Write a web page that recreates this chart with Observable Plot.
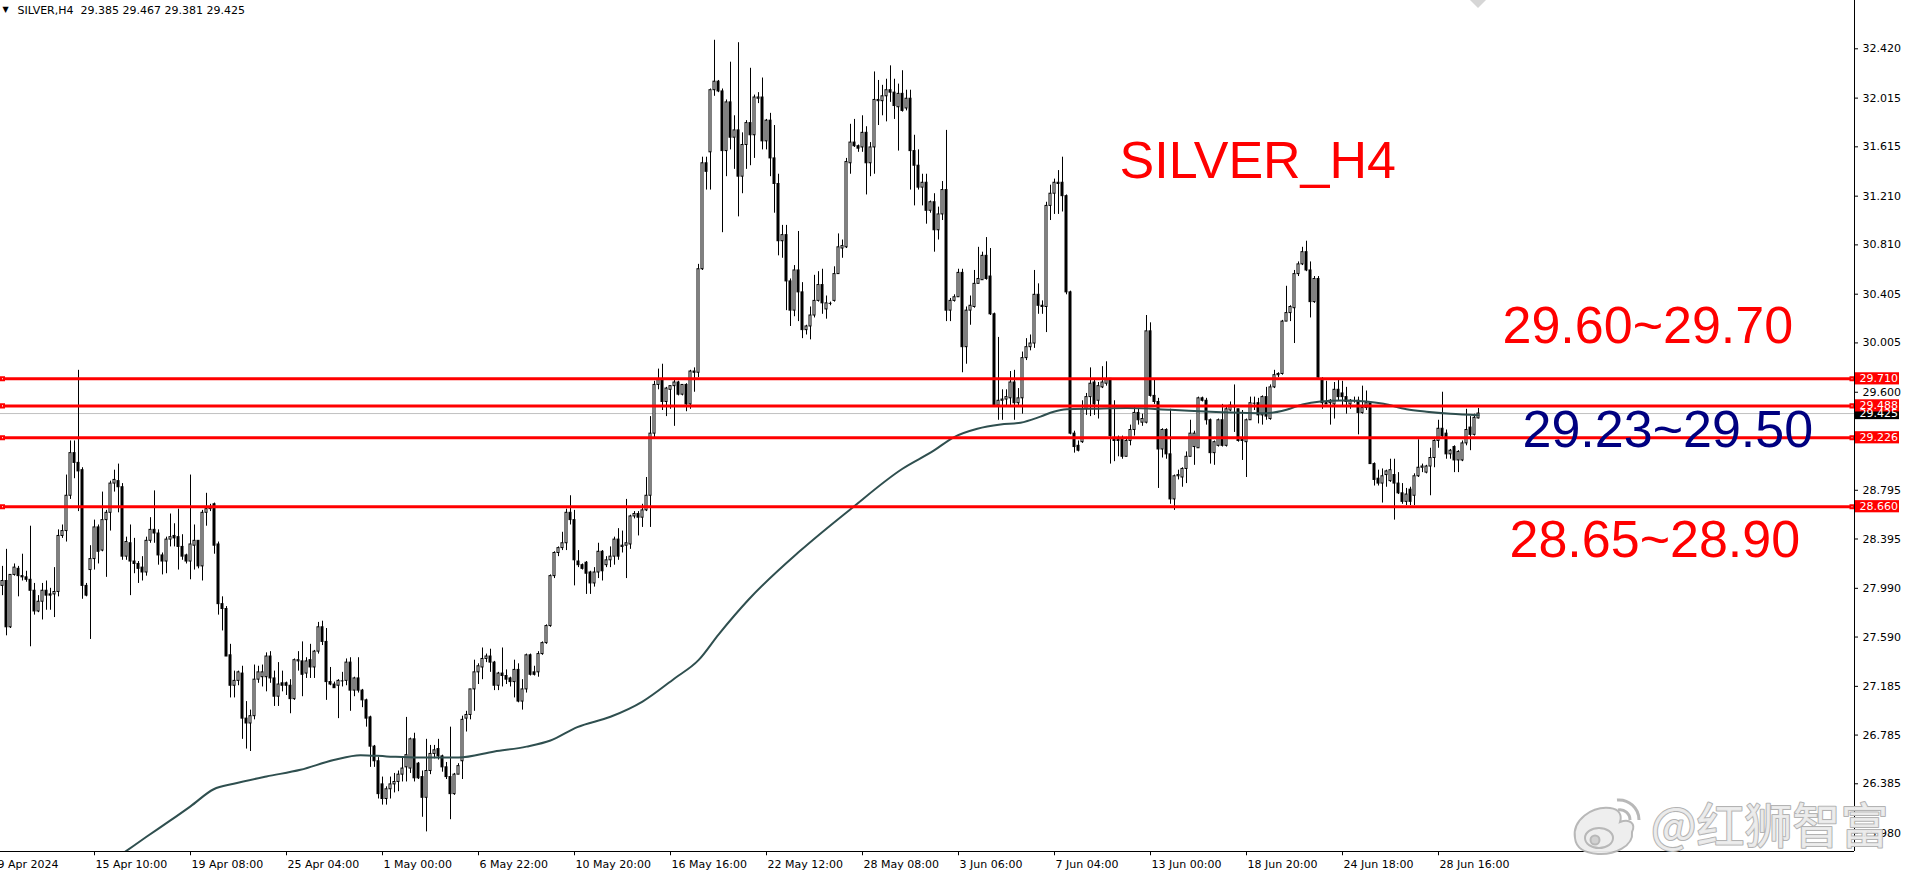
<!DOCTYPE html>
<html><head><meta charset="utf-8">
<script src="https://cdn.jsdelivr.net/npm/d3@7"></script>
<script src="https://cdn.jsdelivr.net/npm/@observablehq/plot@0.6"></script>
<style>
html,body{margin:0;padding:0;background:#fff;overflow:hidden}
#chart{position:relative;width:1907px;height:872px;background:#fff}
#logo{position:absolute;left:0;top:0;pointer-events:none}
</style></head><body><div id="chart"></div>
<script>
// ---- data (H4 candles, index 0 = leftmost bar) ----
const symbolName = "SILVER";
const timeframe = "H4";
const openPrices = [
28.01,28.05,27.67,28.10,28.15,28.09,28.08,28.06,27.97,27.80,
27.88,27.97,27.94,27.94,27.96,28.42,28.46,28.75,29.10,29.02,
28.96,28.01,28.14,28.23,28.49,28.30,28.55,28.61,28.85,28.87,
28.82,28.25,28.36,28.21,28.19,28.16,28.12,28.38,28.47,28.44,
28.26,28.21,28.39,28.42,28.41,28.33,28.26,28.21,28.34,28.38,
28.17,28.61,28.64,28.68,28.35,27.86,27.82,27.44,27.19,27.23,
27.29,26.92,26.88,26.94,27.24,27.26,27.26,27.43,27.25,27.10,
27.21,27.21,27.19,27.08,27.39,27.39,27.29,27.40,27.34,27.47,
27.67,27.55,27.22,27.20,27.19,27.23,27.23,27.38,27.15,27.25,
27.15,27.07,26.93,26.69,26.57,26.38,26.26,26.34,26.38,26.40,
26.46,26.52,26.51,26.75,26.55,26.44,26.27,26.49,26.63,26.67,
26.61,26.52,26.44,26.30,26.46,26.57,26.92,26.95,27.16,27.30,
27.34,27.41,27.43,27.38,27.19,27.29,27.27,27.25,27.22,27.32,
27.06,27.16,27.44,27.30,27.30,27.45,27.54,27.68,28.09,28.28,
28.32,28.36,28.61,28.55,28.21,28.18,28.20,28.12,28.03,28.12,
28.29,28.18,28.22,28.25,28.39,28.33,28.34,28.35,28.58,28.60,
28.57,28.63,28.75,29.26,29.66,29.70,29.52,29.62,29.65,29.68,
29.58,29.66,29.50,29.77,29.76,30.61,31.48,31.57,32.08,32.15,
32.07,31.58,31.98,31.69,31.75,31.37,31.63,31.81,31.71,32.01,
32.02,31.66,31.83,31.52,31.31,30.84,30.89,30.51,30.27,30.60,
30.42,30.11,30.14,30.23,30.35,30.48,30.28,30.33,30.35,30.57,
30.78,30.79,31.48,31.65,31.62,31.61,31.73,31.48,31.61,31.99,
31.99,32.03,32.08,32.06,31.94,32.05,31.93,32.01,31.58,31.46,
31.28,31.32,31.09,31.16,30.93,31.06,31.26,30.27,30.35,30.38,
30.58,29.97,30.27,30.30,30.49,30.52,30.72,30.55,30.24,29.49,
29.53,29.54,29.55,29.68,29.51,29.55,29.88,29.97,30.00,30.40,
30.31,30.30,31.13,31.23,31.32,31.32,31.21,30.42,29.26,29.16,
29.19,29.46,29.56,29.68,29.53,29.64,29.67,29.71,29.22,29.21,
29.21,29.07,29.20,29.29,29.43,29.35,29.35,30.10,29.57,29.52,
29.13,29.29,29.09,28.72,28.91,28.90,28.97,29.07,29.15,29.14,
29.55,29.53,29.37,29.10,29.16,29.37,29.16,29.45,29.48,29.46,
29.21,29.19,29.37,29.51,29.51,29.41,29.56,29.38,29.64,29.74,
29.75,30.18,30.25,30.29,30.57,30.65,30.75,30.60,30.34,30.53,
29.70,29.51,29.51,29.50,29.62,29.59,29.56,29.50,29.53,29.53,
29.43,29.47,29.51,29.01,28.89,28.85,28.92,28.87,28.92,28.85,
28.77,28.70,28.80,28.75,28.91,28.98,28.94,28.99,29.06,29.20,
29.30,29.26,29.09,29.15,29.04,29.04,29.18,29.31,29.25,29.385];
const highPrices = [
28.17,28.31,28.10,28.19,28.17,28.27,28.13,28.50,28.03,27.93,
28.03,28.05,27.99,28.16,28.47,28.51,28.92,29.20,29.20,29.78,
28.98,28.03,28.34,28.55,28.51,28.78,28.63,28.87,28.96,29.01,
28.85,28.41,28.51,28.40,28.21,28.25,28.41,28.57,28.79,28.47,
28.28,28.41,28.60,28.52,28.64,28.43,28.27,28.92,28.51,28.38,
28.63,28.77,28.68,28.69,28.37,27.92,27.84,27.53,27.31,27.31,
27.35,27.06,26.99,27.36,27.35,27.36,27.46,27.47,27.31,27.38,
27.31,27.22,27.24,27.41,27.47,27.55,27.42,27.53,27.48,27.71,
27.72,27.66,27.34,27.22,27.24,27.30,27.41,27.42,27.26,27.42,
27.16,27.08,26.94,26.70,26.60,26.44,26.36,26.44,26.47,26.49,
26.60,26.93,26.76,26.80,26.56,26.49,26.75,26.70,26.70,26.75,
26.62,26.56,26.85,26.47,26.55,26.94,26.98,27.16,27.40,27.37,
27.50,27.45,27.49,27.39,27.30,27.50,27.32,27.26,27.40,27.37,
27.24,27.45,27.45,27.35,27.47,27.55,27.69,28.10,28.29,28.33,
28.45,28.64,28.75,28.63,28.30,28.19,28.21,28.13,28.16,28.36,
28.30,28.25,28.33,28.41,28.48,28.46,28.72,28.59,28.62,28.62,
28.68,28.90,29.40,29.69,29.79,29.83,29.64,29.65,29.70,29.69,
29.66,29.67,29.78,29.80,30.65,31.53,31.53,32.09,32.49,32.16,
32.09,32.00,32.31,31.87,32.47,31.73,31.83,32.26,32.04,32.06,
32.18,31.84,31.89,31.79,31.39,30.97,30.97,30.53,30.64,30.92,
30.50,30.15,30.30,30.56,30.59,30.61,30.39,30.34,30.63,30.90,
30.85,31.52,31.80,31.84,31.63,31.87,31.78,31.65,32.23,32.16,
32.12,32.17,32.28,32.17,32.13,32.24,32.08,32.08,31.71,31.59,
31.39,31.39,31.17,31.23,31.12,31.33,31.75,30.37,30.40,30.61,
30.61,30.30,30.39,30.60,30.79,30.75,30.87,30.78,30.25,30.05,
29.62,29.62,29.77,29.78,29.63,29.93,30.04,30.07,30.60,30.49,
30.35,31.16,31.30,31.35,31.42,31.53,31.22,30.43,29.28,29.20,
29.53,29.59,29.80,29.70,29.68,29.81,29.85,29.71,29.53,29.24,
29.24,29.23,29.33,29.48,29.46,29.42,30.23,30.17,29.70,29.55,
29.30,29.30,29.46,28.92,28.96,28.98,29.11,29.37,29.28,29.56,
29.56,29.55,29.38,29.20,29.38,29.50,29.48,29.52,29.66,29.46,
29.45,29.38,29.56,29.56,29.55,29.57,29.64,29.66,29.78,29.76,
30.19,30.47,30.31,30.60,30.67,30.79,30.84,30.67,30.55,30.55,
29.72,29.69,29.54,29.68,29.70,29.69,29.64,29.54,29.56,29.56,
29.65,29.61,29.52,29.02,28.96,28.97,28.96,29.05,29.05,28.94,
28.85,28.81,28.82,28.93,29.21,29.01,29.00,29.14,29.21,29.37,
29.60,29.29,29.13,29.16,29.12,29.20,29.46,29.40,29.42,29.467];
const lowPrices = [
27.93,27.60,27.66,28.09,27.92,28.05,28.04,27.51,27.77,27.79,
27.73,27.81,27.81,27.75,27.92,28.40,28.37,28.72,28.89,28.62,
27.90,27.92,27.57,28.14,28.19,28.29,28.08,28.46,28.78,28.61,
28.22,28.22,27.93,28.11,28.03,28.05,28.09,28.36,28.36,28.18,
28.10,28.11,28.33,28.33,28.14,28.22,28.19,28.06,28.14,28.15,
28.05,28.50,28.62,28.27,27.77,27.64,27.43,27.09,27.09,27.19,
26.75,26.67,26.65,26.91,27.21,27.18,27.14,27.21,27.02,27.02,
27.14,27.11,26.96,27.07,27.31,27.10,27.25,27.25,27.25,27.45,
27.52,27.07,27.19,27.17,26.92,27.18,27.19,26.98,27.10,27.13,
27.01,26.85,26.52,26.52,26.26,26.21,26.21,26.26,26.31,26.32,
26.40,26.40,26.47,26.40,26.42,26.11,25.99,26.46,26.59,26.58,
26.48,26.42,26.09,26.29,26.46,26.42,26.81,26.91,26.98,27.20,
27.24,27.38,27.30,27.15,27.15,27.18,27.20,27.18,27.09,27.05,
26.99,27.13,27.27,27.27,27.26,27.44,27.53,27.67,28.07,28.25,
28.30,28.30,28.51,28.01,28.16,28.14,27.94,27.94,28.00,28.07,
28.05,28.16,28.16,28.18,28.22,28.28,28.07,28.31,28.56,28.42,
28.49,28.62,28.49,29.22,29.62,29.45,29.40,29.46,29.32,29.57,
29.57,29.44,29.46,29.60,29.72,30.60,31.26,31.26,32.03,32.06,
30.91,31.37,31.59,31.43,31.04,31.23,31.43,31.46,31.52,31.97,
31.59,31.59,31.37,31.07,30.72,30.70,30.27,30.14,30.22,30.18,
30.04,30.07,30.03,30.21,30.34,30.24,30.20,30.31,30.34,30.57,
30.70,30.78,31.39,31.61,31.57,31.57,31.22,31.37,31.39,31.79,
31.87,31.82,31.98,31.84,31.58,31.90,31.91,31.26,31.13,31.26,
31.13,30.98,31.07,30.75,30.85,31.01,30.18,30.18,30.34,30.38,
29.76,29.83,30.15,30.29,30.49,30.52,30.52,30.23,29.48,29.37,
29.37,29.48,29.48,29.37,29.48,29.42,29.86,29.94,29.96,30.24,
30.24,30.09,31.01,31.06,31.06,31.08,30.40,29.25,29.10,29.11,
29.18,29.41,29.40,29.41,29.38,29.63,29.65,29.01,29.03,29.07,
29.05,29.07,29.16,29.24,29.33,29.32,29.34,29.56,29.50,28.81,
29.06,29.05,28.68,28.63,28.88,28.82,28.85,29.07,29.00,29.14,
29.52,29.33,29.01,29.00,29.15,29.15,29.15,29.44,29.27,29.19,
29.04,28.90,29.37,29.45,29.34,29.33,29.37,29.37,29.63,29.72,
29.74,30.18,30.18,30.00,30.55,30.64,30.59,30.21,30.33,29.71,
29.46,29.50,29.33,29.38,29.53,29.48,29.42,29.46,29.51,29.25,
29.42,29.45,29.01,28.83,28.83,28.69,28.82,28.86,28.55,28.76,
28.68,28.67,28.67,28.67,28.90,28.94,28.93,28.75,28.98,29.14,
29.22,29.05,29.05,28.94,28.94,29.03,29.16,29.12,29.24,29.381];
const closePrices = [
28.05,27.67,28.10,28.16,28.09,28.08,28.06,27.97,27.80,27.88,
27.97,27.93,27.93,27.96,28.42,28.46,28.75,29.10,29.02,28.95,
28.01,27.93,28.23,28.49,28.29,28.55,28.61,28.85,28.88,28.82,
28.25,28.37,28.21,28.19,28.15,28.12,28.38,28.47,28.44,28.26,
28.21,28.39,28.41,28.40,28.33,28.25,28.21,28.35,28.38,28.17,
28.61,28.64,28.65,28.34,27.86,27.82,27.43,27.19,27.23,27.30,
26.92,26.88,26.94,27.24,27.30,27.30,27.43,27.25,27.10,27.20,
27.19,27.19,27.08,27.40,27.40,27.28,27.39,27.34,27.47,27.67,
27.55,27.22,27.20,27.17,27.23,27.23,27.38,27.15,27.25,27.15,
27.07,26.92,26.69,26.57,26.30,26.26,26.34,26.38,26.40,26.46,
26.51,26.62,26.75,26.43,26.43,26.27,26.49,26.63,26.66,26.61,
26.52,26.44,26.30,26.46,26.53,26.91,26.95,27.16,27.30,27.35,
27.41,27.43,27.38,27.19,27.29,27.27,27.24,27.22,27.32,27.06,
27.16,27.44,27.28,27.28,27.45,27.54,27.68,28.09,28.28,28.32,
28.36,28.61,28.55,28.22,28.18,28.15,28.11,28.03,28.12,28.29,
28.13,28.22,28.25,28.39,28.25,28.34,28.36,28.58,28.60,28.57,
28.63,28.75,29.26,29.66,29.70,29.52,29.63,29.65,29.68,29.58,
29.66,29.50,29.77,29.76,30.61,31.48,31.41,32.08,32.15,32.07,
31.58,31.98,31.69,31.75,31.37,31.63,31.81,31.71,32.02,32.02,
31.66,31.83,31.52,31.31,30.84,30.89,30.51,30.27,30.60,30.42,
30.11,30.14,30.23,30.35,30.48,30.33,30.33,30.33,30.57,30.79,
30.80,31.49,31.65,31.62,31.60,31.73,31.48,31.61,32.00,32.00,
32.03,32.08,32.06,31.95,32.05,31.91,32.01,31.58,31.46,31.28,
31.32,31.09,31.16,30.93,31.06,31.26,30.27,30.35,30.38,30.58,
29.97,30.27,30.31,30.49,30.53,30.72,30.53,30.24,29.49,29.53,
29.54,29.56,29.68,29.51,29.55,29.88,29.97,30.00,30.40,30.31,
30.30,31.13,31.23,31.32,31.31,31.21,30.42,29.26,29.15,29.12,
29.46,29.56,29.67,29.50,29.65,29.68,29.70,29.24,29.20,29.20,
29.07,29.20,29.29,29.43,29.37,29.38,30.10,29.57,29.52,29.13,
29.29,29.09,28.72,28.91,28.92,28.97,29.07,29.26,29.26,29.55,
29.53,29.37,29.10,29.19,29.37,29.16,29.46,29.49,29.48,29.20,
29.20,29.37,29.51,29.51,29.41,29.56,29.40,29.64,29.74,29.75,
30.18,30.25,30.30,30.57,30.65,30.75,30.60,30.34,30.53,29.72,
29.51,29.50,29.53,29.62,29.56,29.56,29.52,29.53,29.53,29.43,
29.47,29.51,29.01,28.88,28.85,28.91,28.95,28.96,28.85,28.77,
28.70,28.76,28.70,28.91,28.98,28.99,28.99,29.06,29.20,29.30,
29.24,29.09,29.12,29.04,29.11,29.18,29.29,29.25,29.39,29.425];

// moving-average line at sample bars
const maBars = [26,30.8,36,41.8,47,52.8,57.8,66,74.5,82.8,89.5,96,104,114,123,131,137,143.7,152,160,168,174,179,186.6,199.5,212,224.9,232.8,237.8,243.7,249.5,254.5,259.5,262.8,266,272.8,281,292,302,311.2,316,321,325,329.5,335,341,345.3,351,356,362,369];
const maValues = [25.72,25.83,25.95,26.08,26.20,26.34,26.385,26.445,26.50,26.58,26.62,26.61,26.60,26.60,26.65,26.69,26.74,26.85,26.935,27.06,27.25,27.40,27.61,27.90,28.30,28.64,28.97,29.12,29.23,29.30,29.335,29.35,29.40,29.44,29.46,29.465,29.47,29.456,29.44,29.43,29.428,29.456,29.50,29.524,29.532,29.524,29.505,29.46,29.44,29.423,29.412];

const levelPrices = [29.710, 29.488, 29.226, 28.660];
const bidPrice = 29.425;
const yTickValues = [32.420,32.015,31.615,31.210,30.810,30.405,30.005,29.600,28.795,28.395,27.990,27.590,27.185,26.785,26.385,25.980];
const xTickBars = [-1.5,23,47,71,95,119,143,167,191,215,239,263,287,311,335,359];
const xTickLabels = ["9 Apr 2024","15 Apr 10:00","19 Apr 08:00","25 Apr 04:00","1 May 00:00","6 May 22:00","10 May 20:00","16 May 16:00","22 May 12:00","28 May 08:00","3 Jun 06:00","7 Jun 04:00","13 Jun 00:00","18 Jun 20:00","24 Jun 18:00","28 Jun 16:00"];
const noteTexts = ["SILVER_H4","29.60~29.70","29.23~29.50","28.65~28.90"];
const noteBars = [279.25,375,380,376.75];
const notePrices = [31.361,30.008,29.149,28.251];
const noteColors = ["#ff0000","#ff0000","#000080","#ff0000"];
const watermarkText = "@红狮智富";

// ---- build tables ----
const candles = openPrices.map((o,i)=>({i, open:o, high:highPrices[i], low:lowPrices[i], close:closePrices[i]}));
const dojis = candles.filter(d=>d.open===d.close);
const ma = maBars.map((b,k)=>({bar:b, value:maValues[k]}));
const xTicks = xTickBars.map((b,k)=>({bar:b, label:xTickLabels[k]}));
const notes = noteTexts.map((t,k)=>({text:t, bar:noteBars[k], price:notePrices[k], color:noteColors[k]}));
const priceBoxes = [{price:bidPrice, color:"#000000"}, ...levelPrices.map(p=>({price:p, color:"#ff0000"}))];
const last = candles[candles.length-1];
const header = `${symbolName},${timeframe}  ${last.open.toFixed(3)} ${last.high.toFixed(3)} ${last.low.toFixed(3)} ${last.close.toFixed(3)}`;

const yLow = 25.829, yHigh = 32.8166;
const xMin = -0.5, xMax = 463;
const boxHalf = 0.05;

const chart = Plot.plot({
  width: 1907, height: 872,
  marginLeft: 0, marginRight: 53, marginTop: 0, marginBottom: 21,
  style: {fontFamily: "'DejaVu Sans', sans-serif", fontSize: "11px", background: "#ffffff", color: "#000", overflow: "visible"},
  x: {type: "linear", domain: [xMin, xMax], axis: null},
  y: {domain: [yLow, yHigh], axis: null},
  marks: [
    Plot.ruleY([bidPrice], {stroke: "#c0c0c0", strokeWidth: 1}),
    Plot.ruleX(candles, {x: "i", y1: "low", y2: "high", stroke: "#000", strokeWidth: 1}),
    Plot.rect(candles, {x1: d=>d.i-0.25, x2: d=>d.i+0.25, y1: "open", y2: "close",
      fill: d=>d.close>=d.open ? "#ffffff" : "#000000", stroke: "#000", strokeWidth: 1}),
    Plot.ruleY(dojis, {y: "close", x1: d=>d.i-0.375, x2: d=>d.i+0.375, stroke: "#000", strokeWidth: 1}),
    Plot.line(ma, {x: "bar", y: "value", stroke: "#2f4f4f", strokeWidth: 2, curve: "monotone-x", clip: true}),
    Plot.ruleY(levelPrices, {stroke: "#ff0000", strokeWidth: 3}),
    Plot.dot(levelPrices, {y: d=>d, frameAnchor: "left", dx: 2, symbol: "square", r: 1.7, fill: "#fff", stroke: "#ff0000", strokeWidth: 2}),
    Plot.dot(levelPrices, {y: d=>d, frameAnchor: "right", dx: -2.5, symbol: "square", r: 1.7, fill: "#fff", stroke: "#ff0000", strokeWidth: 2}),
    // frame: right & bottom
    Plot.ruleX([xMax], {stroke: "#000", strokeWidth: 1}),
    Plot.ruleY([yLow], {stroke: "#000", strokeWidth: 1}),
    // y axis
    Plot.ruleY(yTickValues, {x1: xMax, x2: xMax + 1, stroke: "#000"}),
    Plot.text(yTickValues, {y: d=>d, text: d=>d.toFixed(3), frameAnchor: "right", dx: 8, textAnchor: "start", fill: "#000"}),
    // x axis
    Plot.ruleX(xTickBars, {x: d=>d, y1: yLow, y2: yLow - 0.035, stroke: "#000"}),
    Plot.text(xTicks, {x: "bar", text: "label", frameAnchor: "bottom", dy: 16, dx: 1, lineAnchor: "bottom", textAnchor: "start", fill: "#000"}),
    // price boxes on right scale
    Plot.rect(priceBoxes, {x1: xMax + 0.25, x2: xMax + 11.25, y1: d=>d.price - boxHalf, y2: d=>d.price + boxHalf, fill: "color"}),
    Plot.text(priceBoxes, {y: "price", text: d=>d.price.toFixed(3), frameAnchor: "right", dx: 5, textAnchor: "start", fill: "#ffffff"}),
    // header
    Plot.text(["▼"], {frameAnchor: "top-left", dx: 2, dy: 11, lineAnchor: "bottom", textAnchor: "start", fontSize: 8, fill: "#000"}),
    Plot.text([header], {frameAnchor: "top-left", dx: 17, dy: 13, lineAnchor: "bottom", textAnchor: "start", fill: "#000"}),
    // annotations
    Plot.text(notes, {x: "bar", y: "price", text: "text", fill: "color", fontSize: 52, fontFamily: "'Liberation Sans', Arial, sans-serif", textAnchor: "start", lineAnchor: "bottom"}),
    // watermark
    Plot.text([watermarkText], {frameAnchor: "bottom-right", dx: 34, dy: -9, lineAnchor: "bottom", textAnchor: "end", fontSize: 48, fontFamily: "'Noto Sans CJK SC', sans-serif", fill: "#ececec", stroke: "#b3b3b3", strokeWidth: 2, paintOrder: "stroke", fillOpacity: 0.95})
  ]
});
document.getElementById("chart").appendChild(chart);

// decorative weibo-style logo next to the watermark, and the faint mark at the top edge
const ns = "http://www.w3.org/2000/svg";
const logo = document.createElementNS(ns, "svg");
logo.setAttribute("id","logo"); logo.setAttribute("width","1907"); logo.setAttribute("height","872");
logo.innerHTML = `
<path d="M1470,0 L1478,8 L1486,0 Z" fill="#d6d6d6"/>
<g fill="#eeeeee" stroke="#b5b5b5" stroke-width="2" opacity="0.95">
  <path d="M1575,838 C1572,820 1592,806 1610,808 C1620,809 1622,816 1620,822 C1630,818 1636,824 1632,832 C1634,846 1614,855 1598,854 C1584,853 1576,848 1575,838 Z"/>
  <ellipse cx="1599" cy="838" rx="14" ry="10"/>
  <circle cx="1595" cy="840" r="4.5" fill="#cfcfcf"/>
  <path d="M1618,810 a10,10 0 0 1 12,10" fill="none" stroke-width="3"/>
  <path d="M1617,800 a20,20 0 0 1 22,20" fill="none" stroke-width="3"/>
</g>`;
document.getElementById("chart").appendChild(logo);
</script>
</body></html>
